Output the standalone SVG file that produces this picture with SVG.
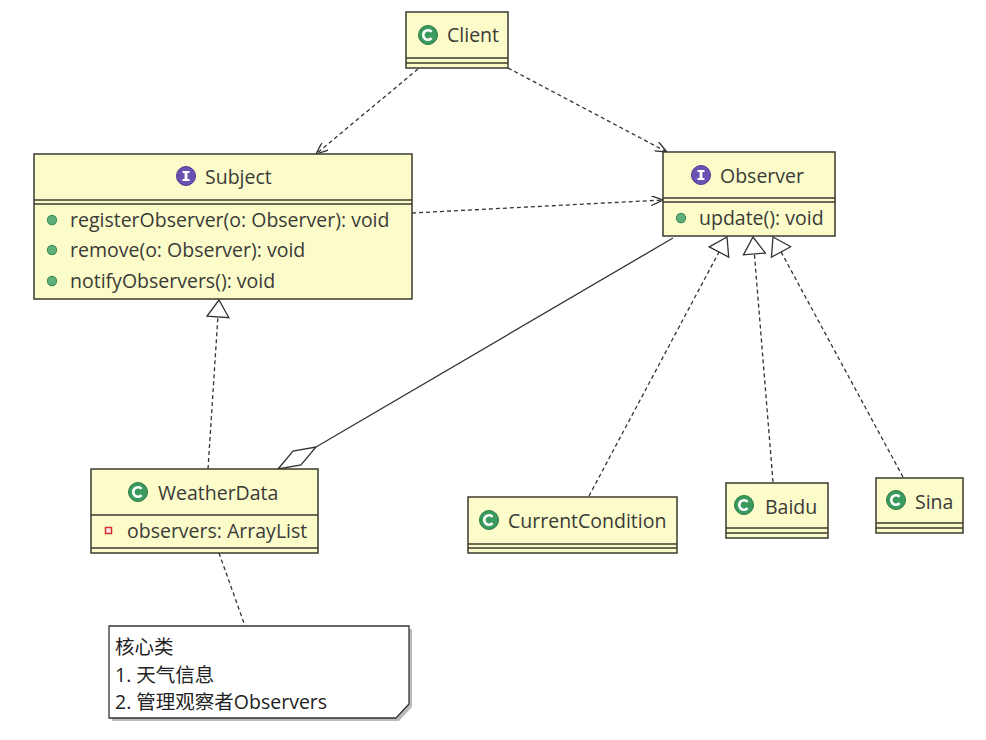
<svg xmlns="http://www.w3.org/2000/svg" width="986" height="740" viewBox="0 0 986 740">
<style>
  .box { fill: #fcfcca; stroke: #3a3a30; stroke-width: 1.5; }
  .sep { stroke: #3a3a30; stroke-width: 1.5; fill: none; }
  .t { font-family: "Open Sans", "Noto Sans CJK SC", sans-serif; font-size: 19.5px; fill: #3a3a38; }
  .n { font-family: "Open Sans", "Noto Sans CJK SC", sans-serif; font-size: 19.5px; fill: #222; }
  .dash { fill: none; stroke: #333; stroke-width: 1.3; stroke-dasharray: 4 3; }
  .solid { fill: none; stroke: #333; stroke-width: 1.3; }
</style>
<defs>
  <symbol id="cls" viewBox="-10 -10 20 20" overflow="visible">
    <circle r="9.5" fill="#3b9a5e" stroke="#2a7a47" stroke-width="1"/>
    <path d="M3.6,-3.2 A4.8,4.8 0 1 0 3.6,3.2" fill="none" stroke="#fff" stroke-width="2.6"/>
  </symbol>
  <symbol id="ifc" viewBox="-10 -10 20 20" overflow="visible">
    <circle r="9.5" fill="#6a52b4" stroke="#4c3a90" stroke-width="1"/>
    <rect x="-1.4" y="-4.5" width="2.8" height="9" fill="#fff"/>
    <rect x="-3.5" y="-5" width="7" height="2" fill="#fff"/>
    <rect x="-3.5" y="3" width="7" height="2" fill="#fff"/>
  </symbol>
  <symbol id="mth" viewBox="-6 -6 12 12" overflow="visible">
    <circle r="5" fill="#5fb07a" stroke="#3c8a56" stroke-width="1.2"/>
  </symbol>
  <marker id="open" viewBox="0 0 12 10" refX="12" refY="5" markerWidth="12" markerHeight="10" markerUnits="userSpaceOnUse" orient="auto">
    <path d="M0,0 L12,5 L0,10" fill="none" stroke="#333" stroke-width="1.3"/>
  </marker>
  <marker id="tri" viewBox="-1 -1 19 24" refX="17" refY="11" markerWidth="19" markerHeight="24" markerUnits="userSpaceOnUse" orient="auto">
    <path d="M0,0 L17,11 L0,22 Z" fill="#fff" stroke="#333" stroke-width="1.3"/>
  </marker>
</defs>
<rect width="986" height="740" fill="#fff"/>

<g id="connectors">
  <path class="dash" d="M418,69 L316,154" marker-end="url(#open)"/>
  <path class="dash" d="M508,68 L667,152" marker-end="url(#open)"/>
  <path class="dash" d="M412,213 L663,200" marker-end="url(#open)"/>
  <path class="dash" d="M208,469 L219,300" marker-end="url(#tri)"/>
  <path class="dash" d="M589,496 L727,237" marker-end="url(#tri)"/>
  <path class="dash" d="M773,482 L753,237" marker-end="url(#tri)"/>
  <path class="dash" d="M903,477 L773,237" marker-end="url(#tri)"/>
  <path class="solid" d="M316,447 L673,238"/>
  <polygon points="278,469 293,451 316,447 301,465" fill="#fff" stroke="#333" stroke-width="1.3"/>
  <path class="dash" d="M219,553 L245,626"/>
</g>

<g id="client">
  <rect class="box" x="406" y="12" width="102" height="56"/>
  <path class="sep" d="M406,58 H508 M406,63 H508"/>
  <use href="#cls" x="418" y="25" width="20" height="20"/>
  <text class="t" x="447" y="42">Client</text>
</g>

<g id="subject">
  <rect class="box" x="34" y="154" width="378" height="145"/>
  <path class="sep" d="M34,200 H412 M34,204 H412"/>
  <use href="#ifc" x="176" y="166" width="20" height="20"/>
  <text class="t" x="205" y="184">Subject</text>
  <use href="#mth" x="46.5" y="214.5" width="11" height="11"/>
  <use href="#mth" x="46.5" y="244.5" width="11" height="11"/>
  <use href="#mth" x="46.5" y="275.5" width="11" height="11"/>
  <text class="t" x="70" y="227">registerObserver(o: Observer): void</text>
  <text class="t" x="70" y="257">remove(o: Observer): void</text>
  <text class="t" x="70" y="288">notifyObservers(): void</text>
</g>

<g id="observer">
  <rect class="box" x="663" y="152" width="172" height="84"/>
  <path class="sep" d="M663,198 H835 M663,202 H835"/>
  <use href="#ifc" x="691" y="165" width="20" height="20"/>
  <text class="t" x="720" y="183">Observer</text>
  <use href="#mth" x="675.5" y="212.5" width="11" height="11"/>
  <text class="t" x="699" y="225">update(): void</text>
</g>

<g id="weatherdata">
  <rect class="box" x="91" y="469" width="227" height="84"/>
  <path class="sep" d="M91,515 H318 M91,548 H318"/>
  <use href="#cls" x="128" y="482" width="20" height="20"/>
  <text class="t" x="158" y="500">WeatherData</text>
  <rect x="105.5" y="527.5" width="6" height="6" fill="#fde8e8" stroke="#d03030" stroke-width="1.5"/>
  <text class="t" x="127" y="538">observers: ArrayList</text>
</g>

<g id="currentcondition">
  <rect class="box" x="468" y="497" width="209" height="56"/>
  <path class="sep" d="M468,544 H677 M468,548 H677"/>
  <use href="#cls" x="479" y="510" width="20" height="20"/>
  <text class="t" x="508" y="528">CurrentCondition</text>
</g>

<g id="baidu">
  <rect class="box" x="726" y="483" width="102" height="55"/>
  <path class="sep" d="M726,528 H828 M726,533 H828"/>
  <use href="#cls" x="734" y="495" width="20" height="20"/>
  <text class="t" x="765" y="514">Baidu</text>
</g>

<g id="sina">
  <rect class="box" x="876" y="478" width="87" height="55"/>
  <path class="sep" d="M876,523 H963 M876,528 H963"/>
  <use href="#cls" x="886" y="490" width="20" height="20"/>
  <text class="t" x="915" y="509">Sina</text>
</g>

<g id="note">
  <polygon points="112,629 412,629 412,707 399,721 112,721" fill="#bbb"/>
  <polygon points="109,626 409,626 409,704 396,718 109,718" fill="#fff" stroke="#333" stroke-width="1.3"/>
  <text class="n" x="115" y="654">核心类</text>
  <text class="n" x="115" y="682">1. 天气信息</text>
  <text class="n" x="115" y="709">2. 管理观察者Observers</text>
</g>
</svg>
